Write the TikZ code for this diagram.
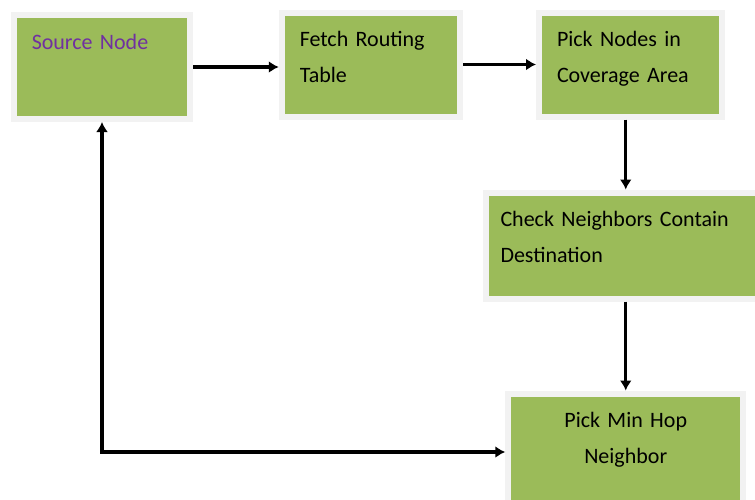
\documentclass[tikz,border=0pt]{standalone}
\usepackage{fontspec}
\setmainfont{Carlito}
\usetikzlibrary{arrows.meta}
\definecolor{boxgreen}{RGB}{155,187,89}
\definecolor{boxrim}{RGB}{242,242,242}
\definecolor{srcpurple}{RGB}{112,48,160}
\tikzstyle{stage} = [rectangle, fill=boxgreen, draw=boxrim, line width=3pt, inner xsep=9pt, inner ysep=10pt, align=left, text height=7pt, font=\fontsize{11}{18}\selectfont]
\tikzstyle{link} = [line width=1.6pt, -{Latex[length=5pt,width=6pt]}]

\begin{document}
\begin{tikzpicture}[x=0.5pt, y=-0.5pt]
		\useasboundingbox (0,0) rectangle (755,499);
		\clip (0,0) rectangle (755,499);
		% boxes
		\node[stage, text width=70.25pt, text depth=25pt, text=srcpurple] (src) at (102,67) {Source Node};
		\node[stage, text width=71.25pt, text depth=25pt] (fetch) at (371,64.5) {Fetch Routing\\Table};
		\node[stage, text width=73.5pt, text depth=25pt] (pick) at (630.5,64.5) {Pick Nodes in\\Coverage Area};
		\node[stage, inner xsep=7.5pt, text width=123pt, text depth=26pt] (check) at (623.5,245.5) {Check Neighbors Contain\\Destination};
		\node[stage, align=center, text width=99.5pt, text depth=31.5pt] (minhop) at (625.75,452) {Pick Min Hop\\Neighbor};
		% arrows
		\draw[link] (src.east) -- (src.east -| fetch.west);
		\draw[link] (fetch.east) -- (pick.west);
		\draw[link] (pick.south -| minhop.north) -- (check.north -| minhop.north);
		\draw[link] (check.south -| minhop.north) -- (minhop.north);
		\draw[link, {Latex[length=5pt,width=6pt]}-{Latex[length=5pt,width=6pt]}] (minhop.west) -- (minhop.west -| src.south) -- (src.south);
\end{tikzpicture}
\end{document}
